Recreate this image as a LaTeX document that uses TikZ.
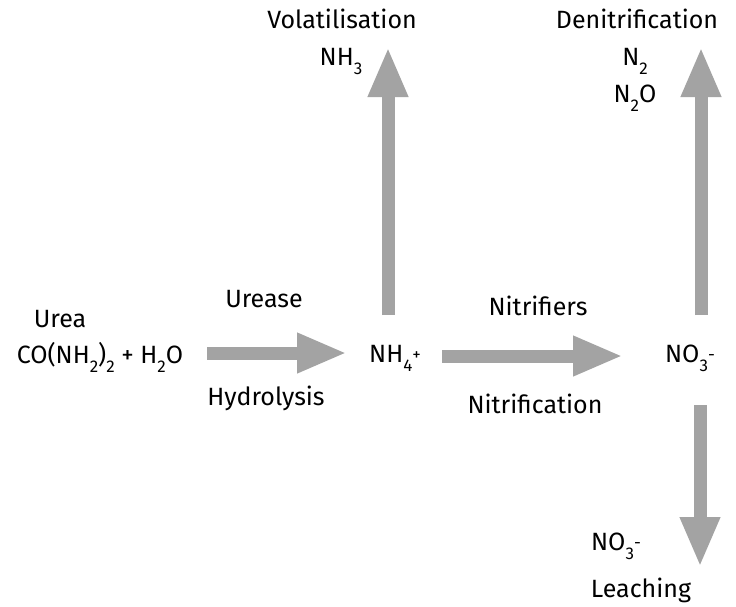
\documentclass[tikz,border=0pt]{standalone}
\usepackage{fontspec}
\setmainfont{Fira Sans}
\usetikzlibrary{arrows.meta}
\definecolor{arrowgray}{RGB}{163,163,163}
\newcommand\dn[1]{\raisebox{-9pt}{\fontsize{17}{17}\selectfont #1}}
\newcommand\upp[1]{\raisebox{2pt}{\fontsize{17}{17}\selectfont #1}}
\begin{document}
\begin{tikzpicture}[x=1pt,y=-1pt,
  lbl/.style={anchor=base,inner sep=0pt,font=\fontsize{25}{25}\selectfont},
  arr/.style={line width=13pt,draw=arrowgray,-{Triangle[length=50pt,width=37pt]}}]
\fill[white] (0,0) rectangle (736,606);
\useasboundingbox (0,0) rectangle (736,606);
% labels
\node[lbl] (vol) at (342,28) {Volatilisation};
\node[lbl] (nh3) at (341,65) {NH\dn{3}};
\node[lbl] (den) at (637,28) {Denitrification};
\node[lbl] (n2) at (635,65) {N\dn{2}};
\node[lbl] (n2o) at (635,102) {N\dn{2}O};
\node[lbl] (urea) at (60,327) {Urea};
\node[lbl] (co) at (100,363) {CO(NH\dn{2})\dn{2} + H\dn{2}O};
\node[lbl] (urease) at (264,307) {Urease};
\node[lbl] (hyd) at (266,405) {Hydrolysis};
\node[lbl] (nh4) at (395,362) {NH\dn{4}\upp{+}};
\node[lbl] (nitrifiers) at (538,315) {Nitrifiers};
\node[lbl] (nitrification) at (535,413) {Nitrification};
\node[lbl] (no3) at (690,362) {NO\dn{3}\upp{-}};
\node[lbl] (no3b) at (616,550) {NO\dn{3}\upp{-}};
\node[lbl] (leach) at (641,597) {Leaching};
% arrow ends
\coordinate (a1s) at (207,353);
\coordinate (a1e) at (347,353);
\coordinate (a2s) at (442,356);
\coordinate (a2e) at (623,356);
\coordinate (u1s) at (388,315);
\coordinate (u1e) at (388,47);
\coordinate (u2s) at (701,315);
\coordinate (u2e) at (701,47);
\coordinate (d1s) at (700,405);
\coordinate (d1e) at (700,567);
\draw[arr] (a1s) -- (a1e);
\draw[arr] (a2s) -- (a2e);
\draw[arr] (u1s) -- (u1e);
\draw[arr] (u2s) -- (u2e);
\draw[arr] (d1s) -- (d1e);
\end{tikzpicture}
\end{document}
